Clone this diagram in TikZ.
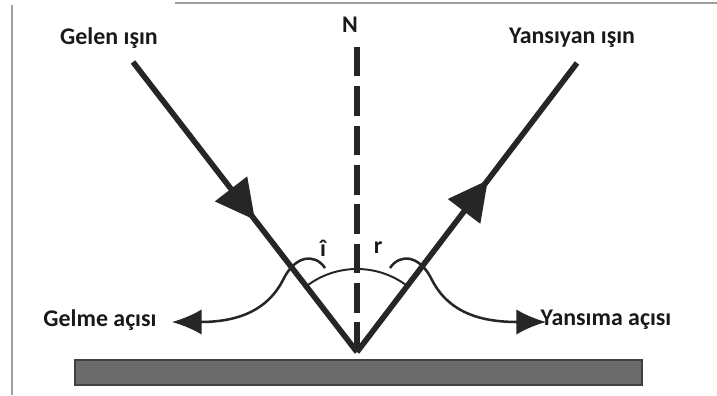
\documentclass[tikz,border=0pt]{standalone}
\usepackage{fontspec}
\setmainfont{Carlito}
\usetikzlibrary{arrows.meta,decorations.markings,calc}
\tikzset{
  lbl/.style={font=\bfseries\fontsize{17}{20}\selectfont, text=black!90},
  ray/.style={line width=4pt, black!85},
  midhead/.style={postaction={decorate, decoration={markings,
      mark=at position #1 with {\arrow{Triangle[length=28pt,width=28pt]}}}}},
  curvearrow/.style={line width=1.8pt, black!85, -{Latex[length=21pt,width=18pt]}}
}
\begin{document}
\begin{tikzpicture}[x=0.025cm,y=0.025cm]
\useasboundingbox (0,0) rectangle (717,395);
% frame
\draw[gray!75, line width=1.3pt] (12,0) -- (12,390);
\draw[gray!75, line width=1.3pt] (175,392) -- (717,392);
% mirror
\draw[fill=black!58, draw=black!75, line width=1pt] (75,10) rectangle (642,35);
\coordinate (P) at (357,43);
\coordinate (A) at (133,333);
\coordinate (B) at (577,332);
\coordinate (T) at (357,353);
% normal
\draw[line width=3.8pt, black!85, dash pattern=on 21pt off 7pt] (P) -- (T);
\node[lbl] (N) at (350,370) {N};
% rays
\draw[ray, midhead=0.545] (A) -- (P);
\draw[ray, midhead=0.595] (P) -- (B);
\node[lbl] (gelen) at (109,357) {Gelen ışın};
\node[lbl] (yansiyan) at (572,357) {Yansıyan ışın};
% angle
\draw[line width=1.4pt, black!85] ($(P)+(52.5:83)$) arc (52.5:127.5:83);
\node[lbl] (i) at (323,147) {î};
\node[lbl] (r) at (378,147) {r};
\node[lbl] (gelme) at (100,75) {Gelme açısı};
\node[lbl] (yansima) at (606,75) {Yansıma açısı};
\coordinate (gtip) at (172,73);
\coordinate (ytip) at (546,73);
\draw[curvearrow] (325,127) .. controls (315,142) and (295,140) .. (283,115)
  .. controls (265,80) and (230,73) .. (gtip);
\draw[curvearrow] (390,127) .. controls (400,142) and (420,140) .. (432,115)
  .. controls (450,80) and (485,73) .. (ytip);
\end{tikzpicture}
\end{document}
